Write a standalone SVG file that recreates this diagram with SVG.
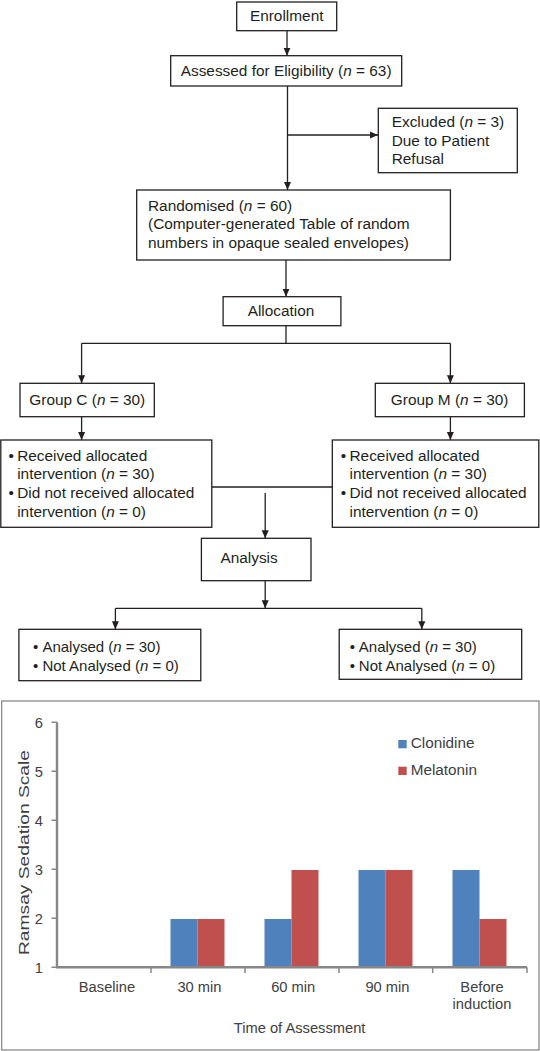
<svg xmlns="http://www.w3.org/2000/svg" width="540" height="1051" viewBox="0 0 540 1051">
<style>
.box{fill:#fff;stroke:#231f20;stroke-width:1.3}
.t{font-family:"Liberation Sans",Arial,sans-serif;font-size:15.4px;fill:#231f20}
.ts{font-family:"Liberation Sans",Arial,sans-serif;font-size:15px;fill:#231f20}
.c{fill:none;stroke:#231f20;stroke-width:1.3}
.a{marker-end:url(#ah)}
.ct{font-family:"Liberation Sans",Arial,sans-serif;font-size:14.7px;fill:#404040}
.lg{font-family:"Liberation Sans",Arial,sans-serif;font-size:15.3px;fill:#404040}
.ax{fill:none;stroke:#878787;stroke-width:2.4}
.blue{fill:#4f81bd}
.red{fill:#c0504d}
</style>
<defs>
<marker id="ah" markerUnits="userSpaceOnUse" markerWidth="8" markerHeight="9" refX="8" refY="4" orient="auto">
<path d="M0,0.5 L8,4 L0,7.5 z" fill="#231f20"/>
</marker>
</defs>
<rect width="540" height="1051" fill="#fff"/>

<g id="connectors">
<path class="c a" d="M287 31 V55.7"/>
<path class="c a" d="M287.5 86 V190"/>
<path class="c a" d="M287.5 135 H378"/>
<path class="c a" d="M286 260 V296.7"/>
<path class="c" d="M286 326 V343.3"/>
<path class="c" d="M81.6 343.3 H450.4"/>
<path class="c a" d="M81.6 343.3 V383.3"/>
<path class="c a" d="M450.4 343.3 V383.3"/>
<path class="c a" d="M81.6 416.7 V440"/>
<path class="c a" d="M450.4 416.7 V440"/>
<path class="c" d="M211.8 487 H332.3"/>
<path class="c a" d="M265.2 493 V538.3"/>
<path class="c a" d="M265.2 581 V608.3"/>
<path class="c" d="M115.4 608.3 H421.8"/>
<path class="c a" d="M115.4 608.3 V629.3"/>
<path class="c a" d="M421.8 608.3 V629.3"/>
</g>

<g id="enrollment">
<rect class="box" x="236.7" y="2" width="100" height="28.7"/>
<text class="t" x="286.7" y="21" text-anchor="middle">Enrollment</text>
</g>

<g id="assessed">
<rect class="box" x="170.7" y="55.7" width="231" height="30.3"/>
<text class="t" x="180.7" y="76">Assessed for Eligibility (<tspan font-style="italic">n</tspan> = 63)</text>
</g>

<g id="excluded">
<rect class="box" x="378.3" y="108.3" width="139" height="64.4"/>
<text class="t" x="391.7" y="127.3">Excluded (<tspan font-style="italic">n</tspan> = 3)</text>
<text class="t" x="391.7" y="145.7">Due to Patient</text>
<text class="t" x="391.7" y="164">Refusal</text>
</g>

<g id="randomised">
<rect class="box" x="136.7" y="190" width="313.7" height="70"/>
<text class="t" x="148" y="210.7">Randomised (<tspan font-style="italic">n</tspan> = 60)</text>
<text class="t" x="148" y="229.3">(Computer-generated Table of random</text>
<text class="t" x="148" y="248.3">numbers in opaque sealed envelopes)</text>
</g>

<g id="allocation">
<rect class="box" x="223.1" y="296.7" width="117.8" height="29"/>
<text class="t" x="281" y="315.5" text-anchor="middle">Allocation</text>
</g>

<g id="groupC">
<rect class="box" x="20" y="383.3" width="134.3" height="33.4"/>
<text class="t" x="29.3" y="405">Group C (<tspan font-style="italic">n</tspan> = 30)</text>
</g>

<g id="groupM">
<rect class="box" x="375.3" y="383.3" width="149.1" height="33.4"/>
<text class="t" x="390.8" y="405">Group M (<tspan font-style="italic">n</tspan> = 30)</text>
</g>

<g id="interventionC">
<rect class="box" x="0.8" y="440" width="211" height="87.3"/>
<text class="t" x="8.5" y="460.7">•</text>
<text class="t" x="17.2" y="460.7">Received allocated</text>
<text class="t" x="17.2" y="479.3">intervention (<tspan font-style="italic">n</tspan> = 30)</text>
<text class="t" x="8.5" y="498.3">•</text>
<text class="t" x="17.2" y="498.3">Did not received allocated</text>
<text class="t" x="17.2" y="516.7">intervention (<tspan font-style="italic">n</tspan> = 0)</text>
</g>

<g id="interventionM">
<rect class="box" x="332.3" y="440" width="206.5" height="87.3"/>
<text class="t" x="340.8" y="460.7">•</text>
<text class="t" x="349.5" y="460.7">Received allocated</text>
<text class="t" x="349.5" y="479.3">intervention (<tspan font-style="italic">n</tspan> = 30)</text>
<text class="t" x="340.8" y="498.3">•</text>
<text class="t" x="349.5" y="498.3">Did not received allocated</text>
<text class="t" x="349.5" y="516.7">intervention (<tspan font-style="italic">n</tspan> = 0)</text>
</g>

<g id="analysis">
<rect class="box" x="201.4" y="538.3" width="109.6" height="42.4"/>
<text class="t" x="220.4" y="563.3">Analysis</text>
</g>

<g id="analysedC">
<rect class="box" x="18.9" y="629.3" width="181.9" height="51.4"/>
<text class="ts" x="33" y="651.7">•</text>
<text class="ts" x="42.4" y="651.7">Analysed (<tspan font-style="italic">n</tspan> = 30)</text>
<text class="ts" x="33" y="671">•</text>
<text class="ts" x="42.4" y="671">Not Analysed (<tspan font-style="italic">n</tspan> = 0)</text>
</g>

<g id="analysedM">
<rect class="box" x="339.2" y="629.3" width="182.5" height="50"/>
<text class="ts" x="349.8" y="651.7">•</text>
<text class="ts" x="358.8" y="651.7">Analysed (<tspan font-style="italic">n</tspan> = 30)</text>
<text class="ts" x="349.8" y="671">•</text>
<text class="ts" x="358.8" y="671">Not Analysed (<tspan font-style="italic">n</tspan> = 0)</text>
</g>

<g id="chart">
<rect x="1.7" y="701" width="537.3" height="349" fill="#fff" stroke="#7f7f7f" stroke-width="1.2"/>
<g id="bars">
<rect class="blue" x="170.5" y="919" width="27" height="48.3"/>
<rect class="red" x="197.5" y="919" width="27" height="48.3"/>
<rect class="blue" x="264.5" y="919" width="27" height="48.3"/>
<rect class="red" x="291.5" y="870" width="27" height="97.3"/>
<rect class="blue" x="358.5" y="870" width="27" height="97.3"/>
<rect class="red" x="385.5" y="870" width="27" height="97.3"/>
<rect class="blue" x="452.5" y="870" width="27" height="97.3"/>
<rect class="red" x="479.5" y="919" width="27" height="48.3"/>
</g>
<path class="ax" d="M57 722.3 V967.3 H527"/>
<path stroke="#878787" stroke-width="1.5" fill="none" d="M51.5 722.3 H57 M51.5 771.3 H57 M51.5 820.3 H57 M51.5 869.3 H57 M51.5 918.3 H57 M51.5 967.3 H57 M151 967.3 V973 M245 967.3 V973 M339 967.3 V973 M432.7 967.3 V973 M527 967.3 V973"/>
<g class="ct" text-anchor="end">
<text x="43" y="727.5">6</text>
<text x="43" y="776.5">5</text>
<text x="43" y="825.5">4</text>
<text x="43" y="874.5">3</text>
<text x="43" y="923.5">2</text>
<text x="43" y="972.5">1</text>
</g>
<text class="ct" transform="translate(28.5 852.5) rotate(-90)" text-anchor="middle" textLength="205" lengthAdjust="spacingAndGlyphs">Ramsay Sedation Scale</text>
<g class="ct" text-anchor="middle">
<text x="107" y="991.7">Baseline</text>
<text x="199.5" y="991.7">30 min</text>
<text x="293.2" y="991.7">60 min</text>
<text x="387.5" y="991.7">90 min</text>
<text x="482" y="991.7">Before</text>
<text x="482" y="1009.3">induction</text>
<text x="299.6" y="1033.3">Time of Assessment</text>
</g>
<g id="legend">
<rect class="blue" x="398.3" y="740" width="8.4" height="8.3"/>
<text class="lg" x="410.7" y="748.3">Clonidine</text>
<rect class="red" x="398.3" y="766.7" width="8.4" height="8.3"/>
<text class="lg" x="410.7" y="775">Melatonin</text>
</g>
</g>
</svg>
